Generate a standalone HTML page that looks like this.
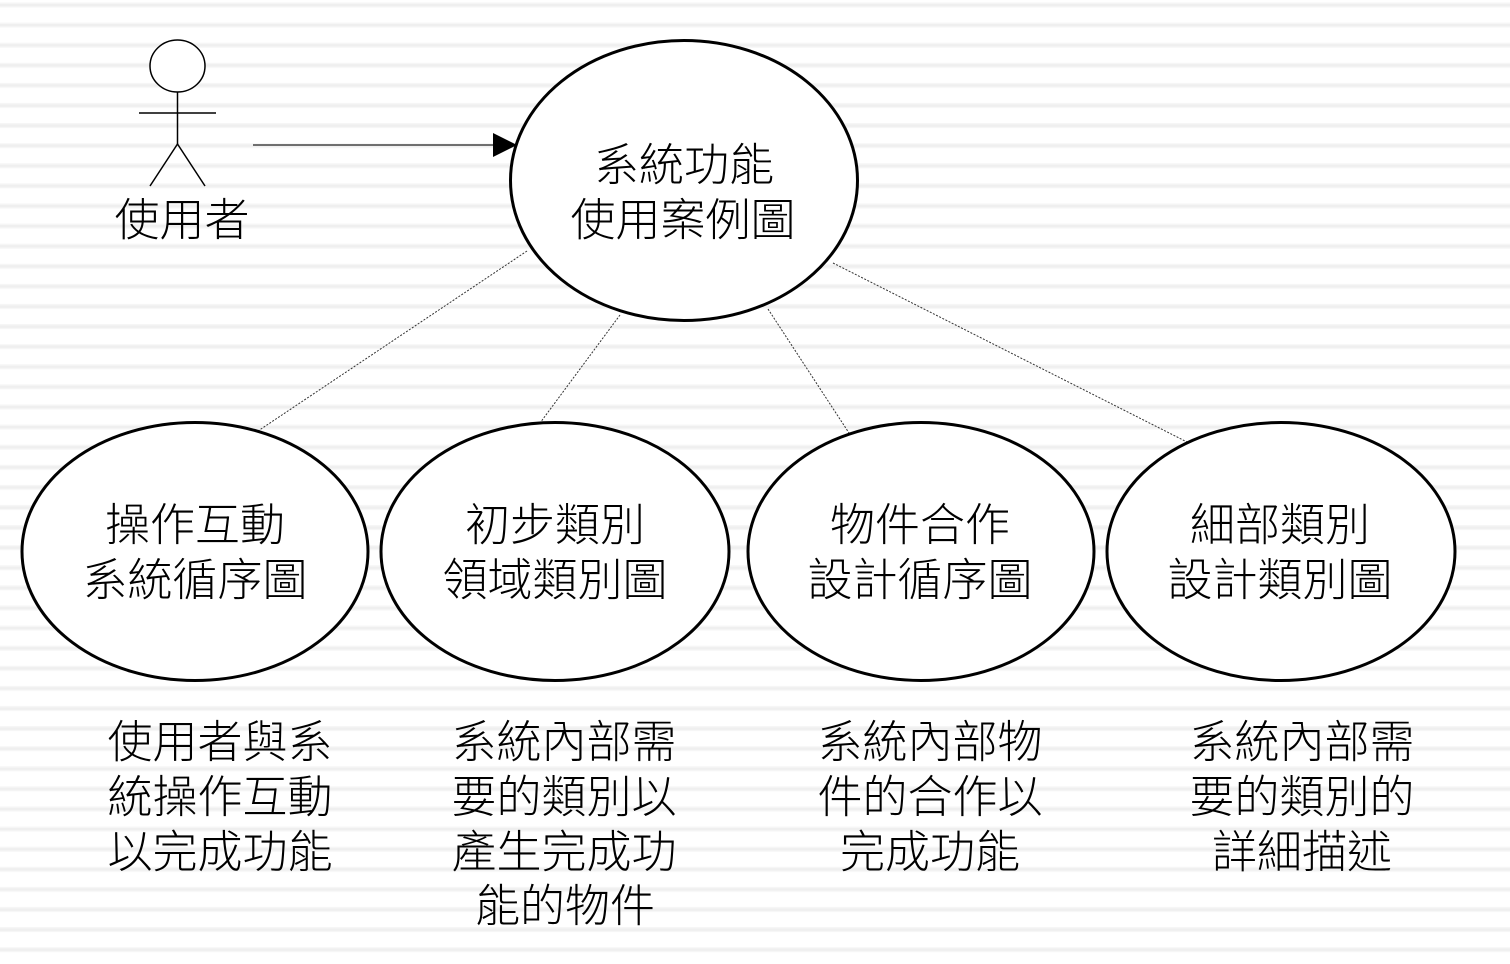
<!DOCTYPE html>
<html>
<head>
<meta charset="utf-8">
<style>
html,body{margin:0;padding:0;background:#fff;}
svg{display:block;}
text{font-family:"Liberation Sans","Noto Sans CJK TC","Noto Sans CJK SC",sans-serif;font-size:45px;font-weight:300;fill:#000;}
</style>
</head>
<body>
<svg width="1510" height="964" viewBox="0 0 1510 964" xmlns="http://www.w3.org/2000/svg">
<defs>
<pattern id="stripes" patternUnits="userSpaceOnUse" width="1510" height="20.1" y="0">
<rect x="0" y="0" width="1510" height="20.1" fill="#ffffff"/>
<rect x="0" y="2.5" width="1510" height="1.2" fill="#f6f6f6"/>
<rect x="0" y="3.7" width="1510" height="2.6" fill="#efefef"/>
<rect x="0" y="6.3" width="1510" height="1.2" fill="#f6f6f6"/>
</pattern>
</defs>
<rect x="0" y="0" width="1510" height="964" fill="url(#stripes)"/>

<!-- dotted connectors -->
<g stroke="#333" stroke-width="1" stroke-dasharray="2 1.5" fill="none">
<line x1="527" y1="251" x2="258" y2="431"/>
<line x1="620" y1="315" x2="540" y2="423"/>
<line x1="768" y1="309" x2="849" y2="433"/>
<line x1="833" y1="263" x2="1187" y2="442"/>
</g>

<!-- actor -->
<g stroke="#000" stroke-width="1.5" fill="none">
<ellipse cx="177.5" cy="66" rx="27.5" ry="26" fill="#fff"/>
<line x1="177.5" y1="92" x2="177.5" y2="144"/>
<line x1="139" y1="113" x2="216" y2="113"/>
<line x1="177.5" y1="144" x2="150" y2="186"/>
<line x1="177.5" y1="144" x2="205" y2="186"/>
</g>
<text x="182" y="220" text-anchor="middle" dominant-baseline="central">使用者</text>

<!-- arrow -->
<line x1="253" y1="145" x2="495" y2="145" stroke="#444" stroke-width="1.5"/>
<polygon points="493,133 517,145 493,157" fill="#000"/>

<!-- top ellipse -->
<ellipse cx="684" cy="180.5" rx="173.5" ry="140" fill="#fff" stroke="#000" stroke-width="3"/>
<text x="684" y="165" text-anchor="middle" dominant-baseline="central">系統功能</text>
<text x="683" y="220" text-anchor="middle" dominant-baseline="central">使用案例圖</text>

<!-- bottom ellipses -->
<g fill="#fff" stroke="#000" stroke-width="3">
<ellipse cx="195" cy="551.5" rx="173" ry="129"/>
<ellipse cx="555" cy="551.5" rx="174" ry="129"/>
<ellipse cx="921" cy="551.5" rx="173" ry="129"/>
<ellipse cx="1281" cy="551.5" rx="174" ry="129"/>
</g>
<g text-anchor="middle" dominant-baseline="central">
<text x="195" y="525">操作互動</text>
<text x="195" y="580">系統循序圖</text>
<text x="555" y="525">初步類別</text>
<text x="555" y="580">領域類別圖</text>
<text x="920" y="525">物件合作</text>
<text x="920" y="580">設計循序圖</text>
<text x="1280" y="525">細部類別</text>
<text x="1280" y="580">設計類別圖</text>
</g>

<!-- descriptions -->
<g text-anchor="middle" dominant-baseline="central">
<text x="220" y="742">使用者與系</text>
<text x="220" y="797">統操作互動</text>
<text x="220" y="852">以完成功能</text>

<text x="564" y="742">系統內部需</text>
<text x="564" y="797">要的類別以</text>
<text x="564" y="852">產生完成功</text>
<text x="565" y="906">能的物件</text>

<text x="930" y="742">系統內部物</text>
<text x="930" y="797">件的合作以</text>
<text x="930" y="852">完成功能</text>

<text x="1302" y="742">系統內部需</text>
<text x="1302" y="797">要的類別的</text>
<text x="1302" y="852">詳細描述</text>
</g>
</svg>
</body>
</html>
